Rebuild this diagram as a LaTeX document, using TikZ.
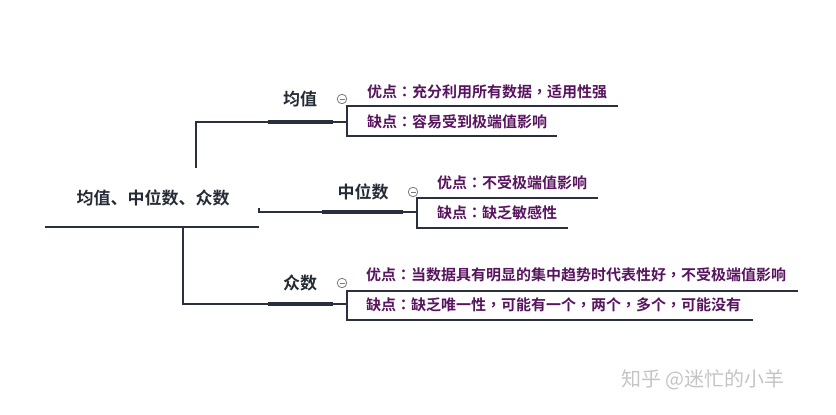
\documentclass[tikz,border=0pt]{standalone}
\usepackage{fontspec}
\newfontfamily\cjk{Noto Sans CJK SC}[BoldFont=* Bold]
\newfontfamily\cjktc{Noto Sans CJK TC}[BoldFont=* Bold]
\newcommand{\pc}[1]{{\cjktc #1}}
\definecolor{linec}{HTML}{2B313C}
\definecolor{barc}{HTML}{27303C}
\definecolor{purp}{HTML}{58145E}
\definecolor{titlec}{HTML}{252B36}
\definecolor{collc}{HTML}{7A7A7A}
\definecolor{wmc}{HTML}{C4C4C4}
\tikzset{
  thinline/.style={draw=linec, line width=1.1pt},
  bar/.style={draw=barc, line width=4pt},
  rootline/.style={draw=barc, line width=2pt},
  title/.style={font=\cjk\bfseries\fontsize{17}{20}\selectfont, text=titlec, inner sep=0pt},
  item/.style={font=\cjk\bfseries\fontsize{15}{18}\selectfont, text=purp, inner sep=0pt, anchor=west},
  coll/.style={draw=collc, line width=0.8pt, circle, minimum size=9.5pt, inner sep=0pt},
  minus/.style={draw=collc, line width=0.8pt},
}
\begin{document}
\begin{tikzpicture}[x=1pt,y=-1pt]
\useasboundingbox (0,0) rectangle (836,415);
% root
\node[title] (root) at (153,198) {均值、中位数、众数};
\coordinate (r1) at (45,227);
\coordinate (r2) at (259,227);
\draw[rootline] (r1) -- (r2);
% branch 1
\node[title] (t1) at (300,99) {均值};
\coordinate (b1s) at (268,122);
\coordinate (b1e) at (333,122);
\coordinate (v1) at (196,168);
\draw[thinline] (v1) |- (b1s);
\draw[bar] (b1s) -- (b1e);
\node[coll] (c1) at (342,99) {};
\draw[minus] ([xshift=-2.5pt]c1.center) -- ([xshift=2.5pt]c1.center);
\coordinate (k1t) at (347,106);
\coordinate (k1b) at (347,136);
\draw[thinline] (b1e) -- (347,122);
\node[item] (p1) at (367,92) {优点\pc{：}充分利用所有数据\pc{，}适用性强};
\node[item] (n1) at (367,122) {缺点\pc{：}容易受到极端值影响};
\draw[thinline] (618,106) -- (k1t) -- (k1b) -- (557,136);
% branch 2
\node[title] (t2) at (363,192) {中位数};
\coordinate (v2) at (259,208);
\coordinate (b2s) at (322,212);
\coordinate (b2e) at (403,212);
\draw[thinline] (v2) |- (b2s);
\draw[bar] (b2s) -- (b2e);
\node[coll] (c2) at (413,192) {};
\draw[minus] ([xshift=-2.5pt]c2.center) -- ([xshift=2.5pt]c2.center);
\coordinate (k2t) at (417,198);
\coordinate (k2b) at (417,228);
\draw[thinline] (b2e) -- (417,212);
\node[item] (p2) at (437,183) {优点\pc{：}不受极端值影响};
\node[item] (n2) at (437,213) {缺点\pc{：}缺乏敏感性};
\draw[thinline] (598,198) -- (k2t) -- (k2b) -- (568,228);
% branch 3
\node[title] (t3) at (300,283) {众数};
\coordinate (v3) at (183,227);
\coordinate (b3s) at (268,304);
\coordinate (b3e) at (333,304);
\draw[thinline] (v3) |- (b3s);
\draw[bar] (b3s) -- (b3e);
\node[coll] (c3) at (342,283) {};
\draw[minus] ([xshift=-2.5pt]c3.center) -- ([xshift=2.5pt]c3.center);
\coordinate (k3t) at (347,291);
\coordinate (k3b) at (347,320);
\draw[thinline] (b3e) -- (347,304);
\node[item] (p3) at (366,275) {优点\pc{：}当数据具有明显的集中趋势时代表性好\pc{，}不受极端值影响};
\node[item] (n3) at (366,305) {缺点\pc{：}缺乏唯一性\pc{，}可能有一个\pc{，}两个\pc{，}多个\pc{，}可能没有};
\draw[thinline] (798,291) -- (k3t) -- (k3b) -- (753,320);
% watermark
\node[font=\cjk\fontsize{20}{24}\selectfont, text=wmc, inner sep=0pt, anchor=west] (wm) at (621,380) {知乎 @迷忙的小羊};
\end{tikzpicture}
\end{document}
